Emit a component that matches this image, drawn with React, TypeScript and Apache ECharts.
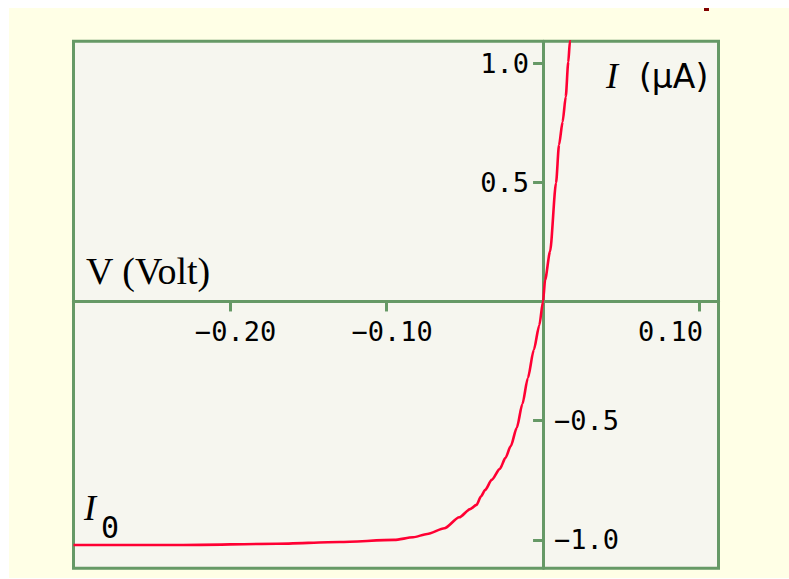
import React, { useEffect, useRef } from "react";
import * as echarts from "echarts";

// Diode characteristic: forward voltage (V) against current (µA)
const voltage = [
  -0.3, -0.23, -0.17, -0.13, -0.095, -0.083, -0.074, -0.063, -0.0535, -0.0466,
  -0.0425, -0.0397, -0.0369, -0.0328, -0.0276, -0.024, -0.0206, -0.0168, -0.0132,
  -0.0097, -0.0059, -0.0024, 0, 0.0013, 0.0045, 0.0083, 0.0102, 0.0125, 0.0145,
  0.0161, 0.0172, 0.018,
];
const current = [
  -1.021, -1.021, -1.016, -1.009, -1.0, -0.989, -0.975, -0.951, -0.905, -0.871,
  -0.853, -0.818, -0.79, -0.748, -0.702, -0.656, -0.606, -0.53, -0.43,
  -0.321, -0.203, -0.1, 0, 0.09, 0.21, 0.497, 0.656, 0.753, 0.858,
  1.004, 1.092, 1.15,
];

const xTickValues = [-0.2, -0.1, 0.1];
const xTickLabels = ["−0.20", "−0.10", "0.10"];
const yTickValues = [-1, -0.5, 0.5, 1];
const yTickLabels = ["−1.0", "−0.5", "0.5", "1.0"];

const xTitle = "V (Volt)";
const yTitleSymbol = "I";
const yTitleUnit = "(μA)";
const saturationSymbol = "I";
const saturationSub = "0";

const GREEN = "#669966";
const RED = "#ff0033";
const MONO = "DejaVu Sans Mono";
const SANS = "DejaVu Sans";
const SERIF = "Liberation Serif";

// plot rectangle and value ranges
const GRID = { left: 73.5, top: 41.3, width: 645, height: 527 };
const X_RANGE = { min: -0.3, max: 0.1121 };
const Y_RANGE = { min: -1.119, max: 1.091 };

const labelFor = (values: number[], labels: string[], v: number) => {
  const i = values.findIndex((t) => Math.abs(t - v) < 1e-9);
  return i >= 0 ? labels[i] : "";
};

export default function App() {
  const ref = useRef<HTMLDivElement>(null);

  useEffect(() => {
    if (!ref.current) return;
    const chart = echarts.init(ref.current, null, { renderer: "svg" });

    // pixel offsets that put the axes through the origin
    const zeroX =
      GRID.left + ((0 - X_RANGE.min) / (X_RANGE.max - X_RANGE.min)) * GRID.width;
    const zeroY =
      GRID.top + ((Y_RANGE.max - 0) / (Y_RANGE.max - Y_RANGE.min)) * GRID.height;
    const bottomOffset = zeroY - (GRID.top + GRID.height);
    const leftOffset = GRID.left - zeroX;
    const rightOffset = zeroX - (GRID.left + GRID.width);

    const tickFont = { fontFamily: MONO, fontSize: 27, color: "#000" };

    chart.setOption({
      animation: false,
      backgroundColor: "transparent",
      grid: {
        ...GRID,
        containLabel: false,
        outerBoundsMode: "none",
        show: true,
        backgroundColor: "#f6f6ef",
        borderColor: GREEN,
        borderWidth: 3,
      },
      xAxis: {
        type: "value",
        ...X_RANGE,
        position: "bottom",
        offset: bottomOffset,
        axisLine: { onZero: false, lineStyle: { color: GREEN, width: 3 } },
        axisTick: { customValues: xTickValues, length: 10, lineStyle: { color: GREEN, width: 3 } },
        axisLabel: {
          customValues: xTickValues,
          margin: 17,
          formatter: (v: number) => {
            const t = labelFor(xTickValues, xTickLabels, v);
            return v > 0 ? `{e|${t}}` : `{n|${t}}`;
          },
          rich: {
            n: { ...tickFont, padding: [0, 0, 0, 11] },
            e: { ...tickFont, padding: [0, 58, 0, 0] },
          },
        },
        splitLine: { show: false },
      },
      yAxis: [
        {
          type: "value",
          ...Y_RANGE,
          position: "left",
          offset: leftOffset,
          axisLine: { onZero: false, lineStyle: { color: GREEN, width: 3 } },
          axisTick: { customValues: yTickValues, length: 10, lineStyle: { color: GREEN, width: 3 } },
          axisLabel: {
            customValues: yTickValues.filter((v) => v > 0),
            margin: 14,
            ...tickFont,
            padding: [7, 0, 0, 0],
            formatter: (v: number) => labelFor(yTickValues, yTickLabels, v),
          },
          splitLine: { show: false },
        },
        {
          type: "value",
          ...Y_RANGE,
          position: "right",
          offset: rightOffset,
          axisLine: { show: false, onZero: false },
          axisTick: { show: false },
          axisLabel: {
            customValues: yTickValues.filter((v) => v < 0),
            margin: 11,
            ...tickFont,
            padding: [3, 0, 0, 0],
            formatter: (v: number) => labelFor(yTickValues, yTickLabels, v),
          },
          splitLine: { show: false },
        },
      ],
      series: [
        {
          type: "line",
          data: voltage.map((v, i) => [v, current[i]]),
          showSymbol: false,
          smooth: 0.25,
          smoothMonotone: "x",
          clip: true,
          lineStyle: { color: RED, width: 2.6 },
          z: 1,
        },
      ],
      graphic: [
        { type: "rect", shape: { x: 704, y: 8, width: 5, height: 3 }, style: { fill: "#800000" } },
        {
          type: "text",
          x: 86,
          y: 271,
          style: { text: xTitle, font: `38px "${SERIF}"`, fill: "#000", verticalAlign: "middle" },
        },
        {
          type: "text",
          x: 606,
          y: 76,
          style: {
            text: yTitleSymbol,
            font: `italic 36px "${SERIF}"`,
            fill: "#000",
            verticalAlign: "middle",
          },
        },
        {
          type: "text",
          x: 639,
          y: 76,
          style: { text: yTitleUnit, font: `33px "${SANS}"`, fill: "#000", verticalAlign: "middle" },
        },
        {
          type: "text",
          x: 84,
          y: 508,
          style: {
            text: saturationSymbol,
            font: `italic 36px "${SERIF}"`,
            fill: "#000",
            verticalAlign: "middle",
          },
        },
        {
          type: "text",
          x: 101,
          y: 527,
          style: { text: saturationSub, font: `30px "${MONO}"`, fill: "#000", verticalAlign: "middle" },
        },
      ],
    });

    return () => chart.dispose();
  }, []);

  return (
    <div style={{ position: "fixed", left: 0, top: 0, width: 789, height: 579, background: "#fff" }}>
      <div
        style={{ position: "absolute", left: 9, top: 8, width: 780, height: 570, background: "#ffffe6" }}
      />
      <div ref={ref} style={{ position: "absolute", left: 0, top: 0, width: 789, height: 579 }} />
    </div>
  );
}
